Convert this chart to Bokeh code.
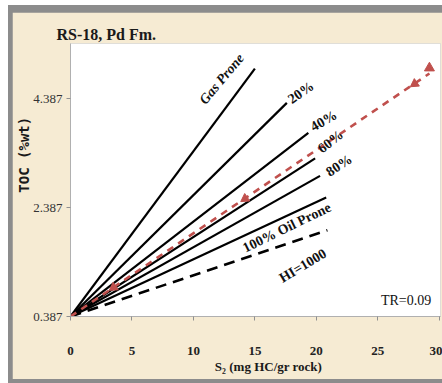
from bokeh.plotting import figure
from bokeh.layouts import column
from bokeh.models import Range1d, FixedTicker, Label, ColumnDataSource
from bokeh.core.properties import value
from bokeh.embed import file_html
from bokeh.resources import INLINE

# ---------------- data ----------------
origin_x = 0.0
origin_y = 0.387
line_names = ["Gas Prone", "20%", "40%", "60%", "80%", "100% Oil Prone"]
line_end_x = [15.0, 17.6, 19.35, 19.9, 20.3, 20.8]
line_end_y = [4.94, 4.31, 3.76, 3.29, 2.97, 2.57]
hi1000_x = [0.0, 20.9]
hi1000_y = [0.387, 1.97]
red_x = [0.0, 29.2]
red_y = [0.387, 4.85]
arrow_x = [3.5, 14.2, 28.0]
arrow_y = [0.92, 2.55, 4.66]
tip_x = [29.2]
tip_y = [4.95]
x_ticks = [0, 5, 10, 15, 20, 25, 30]
y_ticks = [0.387, 2.387, 4.387]
y_tick_labels = ["0.387", "2.387", "4.387"]

# ---------------- figure ----------------
BEIGE = "#f6ebd3"
GRAY = "#8c8c8c"
SERIF = "Liberation Serif"
NB = "\u00a0"

p = figure(width=430, height=367, output_backend="svg", toolbar_location=None,
           x_range=Range1d(0, 30.1), y_range=Range1d(0.387, 5.4),
           min_border_left=58, min_border_right=2, min_border_top=31, min_border_bottom=63)
p.border_fill_color = BEIGE
p.background_fill_color = "white"
p.outline_line_color = None
p.grid.visible = False
p.margin = (7, 0, 4, 4)

# title
p.title.text = "RS-18, Pd Fm."
p.title.text_font = SERIF
p.title.text_font_size = "16px"
p.title.text_font_style = "bold"
p.title.align = "left"
p.title.offset = -14
p.title.standoff = 2
p.title.text_color = "#1a1a1a"

# axes
xa = p.xaxis[0]
xa.ticker = FixedTicker(ticks=x_ticks)
xa.axis_line_color = "#b0b0b0"
xa.major_tick_line_color = "#909090"
xa.major_tick_out = 4
xa.major_tick_in = 0
xa.minor_tick_line_color = None
xa.major_label_standoff = 26
xa.major_label_text_font = SERIF
xa.major_label_text_font_size = "13px"
xa.major_label_text_font_style = "bold"
xa.major_label_text_color = "#222222"
xa.axis_label = NB * 8 + "S\u2082 (mg HC/gr rock)"
xa.axis_label_text_font = SERIF
xa.axis_label_text_font_size = "13px"
xa.axis_label_text_font_style = "bold"
xa.axis_label_text_color = "#1a1a1a"
xa.axis_label_standoff = 1

ya = p.yaxis[0]
ya.ticker = FixedTicker(ticks=y_ticks)
ya.major_label_overrides = {t: s for t, s in zip(y_ticks, y_tick_labels)}
ya.axis_line_color = "#b0b0b0"
ya.major_tick_line_color = "#909090"
ya.major_tick_out = 4
ya.major_tick_in = 0
ya.minor_tick_line_color = None
ya.major_label_standoff = 4
ya.major_label_text_font = SERIF
ya.major_label_text_font_size = "13px"
ya.major_label_text_color = "#333333"
ya.axis_label = NB * 6 + "TOC (%wt)"
ya.axis_label_text_font = "DejaVu Sans Mono"
ya.axis_label_text_font_size = "14px"
ya.axis_label_text_font_style = "bold"
ya.axis_label_text_color = "#1a1a1a"
ya.axis_label_standoff = -2

# black reference lines from origin
xs = [[origin_x, ex] for ex in line_end_x]
ys = [[origin_y, ey] for ey in line_end_y]
p.multi_line(xs=xs, ys=ys, line_color="black", line_width=2.2)
p.line(hi1000_x, hi1000_y, line_color="black", line_width=2.6, line_dash="11 7")

# red dashed trend with arrow heads
RED = "#c0504d"
p.line(red_x, red_y, line_color=RED, line_width=2.6, line_dash="7 6")
p.scatter(arrow_x, arrow_y, marker="triangle", size=9, angle=124, angle_units="deg",
          fill_color=RED, line_color=RED)
p.scatter(tip_x, tip_y, marker="triangle", size=10, fill_color=RED, line_color=RED)

# line labels
lab = ColumnDataSource(dict(
    text=line_names + ["HI=1000"],
    x=[12.3, 18.75, 20.6, 21.15, 21.85, 17.6, 18.9],
    y=[4.75, 4.50, 3.98, 3.60, 3.16, 2.02, 1.32],
    angle=[50, 35, 30, 38, 33, 26, 31],
    style=["bold italic", "bold", "bold", "bold", "bold", "bold", "bold"],
))
p.text(x="x", y="y", text="text", angle="angle", angle_units="deg", source=lab,
       text_font=value(SERIF), text_font_size="14px", text_font_style="style",
       text_align="center", text_baseline="middle", text_color="#111111")

p.add_layout(Label(x=27.3, y=0.68, text="TR=0.09", text_font=SERIF, text_font_size="14px",
                   text_align="center", text_baseline="middle", text_color="#111111"))

root = column(p, styles={"background-color": GRAY}, margin=(5, 0, 0, 8))

open("out.html", "w").write(file_html(root, INLINE))
